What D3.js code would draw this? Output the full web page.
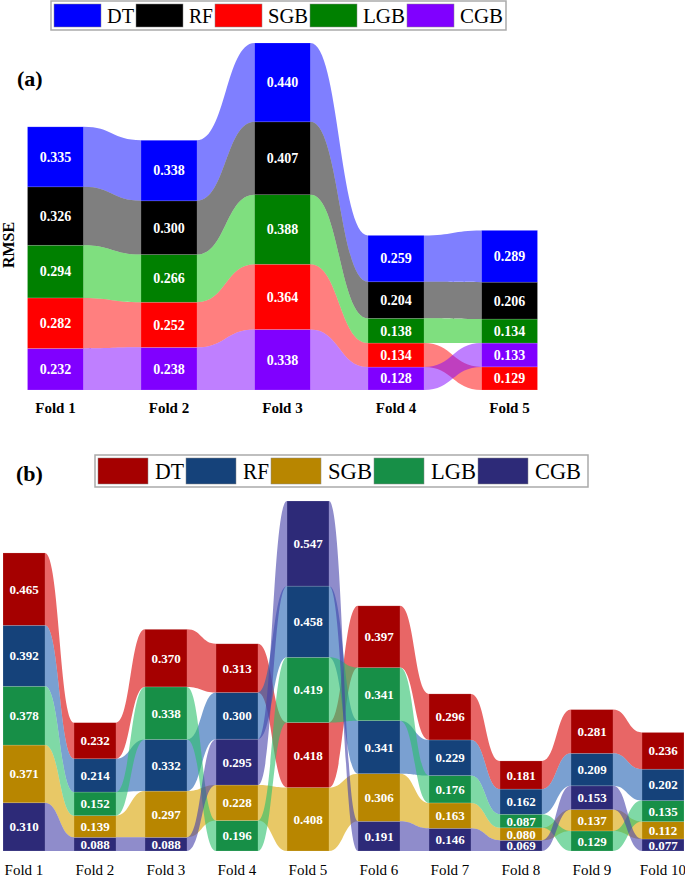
<!DOCTYPE html>
<html>
<head>
<meta charset="utf-8">
<script src="https://cdn.jsdelivr.net/npm/d3@7"></script>
<style>
  body { margin: 0; background: #fff; }
  svg { display: block; font-family: "Liberation Serif", "Times New Roman", serif; }
</style>
</head>
<body>
<div id="chart"></div>
<script>
// Model names and fold labels
var models = ["DT", "RF", "SGB", "LGB", "CGB"];
var foldsA = ["Fold 1", "Fold 2", "Fold 3", "Fold 4", "Fold 5"];
var foldsB = ["Fold 1", "Fold 2", "Fold 3", "Fold 4", "Fold 5", "Fold 6", "Fold 7", "Fold 8", "Fold 9", "Fold 10"];

// Panel (a) RMSE per model
var aDT = [0.335, 0.338, 0.440, 0.259, 0.289];
var aRF = [0.326, 0.300, 0.407, 0.204, 0.206];
var aSGB = [0.282, 0.252, 0.364, 0.134, 0.129];
var aLGB = [0.294, 0.266, 0.388, 0.138, 0.134];
var aCGB = [0.232, 0.238, 0.338, 0.128, 0.133];

// Panel (b) values per model
var bDT = [0.465, 0.232, 0.370, 0.313, 0.418, 0.397, 0.296, 0.181, 0.281, 0.236];
var bRF = [0.392, 0.214, 0.332, 0.300, 0.458, 0.341, 0.229, 0.162, 0.209, 0.202];
var bSGB = [0.371, 0.139, 0.297, 0.228, 0.408, 0.306, 0.163, 0.080, 0.137, 0.112];
var bLGB = [0.378, 0.152, 0.338, 0.196, 0.419, 0.341, 0.176, 0.087, 0.129, 0.135];
var bCGB = [0.310, 0.088, 0.088, 0.295, 0.547, 0.191, 0.146, 0.069, 0.153, 0.077];

var svg = d3.select("#chart").append("svg")
  .attr("width", 685)
  .attr("height", 877);

// builds stacked boxes per fold, smallest at the bottom
function stackFolds(series, nFolds) {
  var out = [];
  for (var f = 0; f < nFolds; f++) {
    var items = models.map(function (m, i) {
      return { model: m, idx: i, value: series[i][f] };
    });
    // stable ascending sort (ties keep model order)
    items.sort(function (a, b) { return a.value - b.value || a.idx - b.idx; });
    var cum = 0;
    var byModel = {};
    items.forEach(function (d) {
      d.y0 = cum;
      cum += d.value;
      d.y1 = cum;
      byModel[d.model] = d;
    });
    out.push({ items: items, byModel: byModel, total: cum });
  }
  return out;
}

function drawPanel(cfg) {
  var g = svg.append("g");
  var stacks = stackFolds(cfg.series, cfg.folds.length);
  var maxTotal = d3.max(stacks, function (s) { return s.total; });

  var x = d3.scalePoint().domain(cfg.folds).range(cfg.xRange);
  var y = d3.scaleLinear().domain([0, maxTotal]).range([cfg.base, cfg.top]);
  var w = cfg.boxW;

  var boxes = g.append("g");
  var ribbons = g.append("g");
  var labels = g.append("g");

  // ribbons between consecutive folds
  for (var f = 0; f < cfg.folds.length - 1; f++) {
    var x0 = x(cfg.folds[f]) + w / 2;
    var x1 = x(cfg.folds[f + 1]) - w / 2;
    var xm = (x0 + x1) / 2;
    models.forEach(function (m, i) {
      var a = stacks[f].byModel[m];
      var b = stacks[f + 1].byModel[m];
      var t0 = y(a.y1), b0 = y(a.y0), t1 = y(b.y1), b1 = y(b.y0);
      var p = d3.path();
      p.moveTo(x0, t0);
      p.bezierCurveTo(xm, t0, xm, t1, x1, t1);
      p.lineTo(x1, b1);
      p.bezierCurveTo(xm, b1, xm, b0, x0, b0);
      p.closePath();
      ribbons.append("path")
        .attr("d", p.toString())
        .attr("fill", cfg.ribbonColors[i])
        .attr("fill-opacity", cfg.ribbonOpacity);
    });
  }

  // boxes and value labels
  stacks.forEach(function (s, f) {
    s.items.forEach(function (d) {
      boxes.append("rect")
        .attr("x", x(cfg.folds[f]) - w / 2)
        .attr("y", y(d.y1))
        .attr("width", w)
        .attr("height", y(d.y0) - y(d.y1))
        .attr("fill", cfg.colors[d.idx])
        .attr("stroke", "#fff")
        .attr("stroke-opacity", 0.25)
        .attr("stroke-width", 0.6);
      labels.append("text")
        .attr("x", x(cfg.folds[f]))
        .attr("y", (y(d.y0) + y(d.y1)) / 2)
        .attr("dy", "0.35em")
        .attr("text-anchor", "middle")
        .attr("fill", "#fff")
        .attr("font-weight", "bold")
        .attr("font-size", cfg.valueSize)
        .text(d.value.toFixed(3));
    });
  });

  // fold labels
  g.selectAll(".fold")
    .data(cfg.folds)
    .enter().append("text")
    .attr("x", function (d) { return x(d); })
    .attr("y", cfg.labelY)
    .attr("text-anchor", "middle")
    .attr("font-size", 15)
    .attr("font-weight", cfg.labelWeight)
    .attr("fill", "#000")
    .text(function (d) { return d; });

  // legend: swatch, label, swatch, label ... packed
  var L = cfg.legend;
  var lg = svg.append("g");
  lg.append("rect")
    .attr("x", L.x)
    .attr("y", L.y)
    .attr("width", L.w)
    .attr("height", L.h)
    .attr("fill", "#fff")
    .attr("stroke", "#aaa")
    .attr("stroke-width", 1.5);
  var sx = L.x + 3;
  models.forEach(function (m, i) {
    lg.append("rect")
      .attr("x", sx)
      .attr("y", L.y + 3)
      .attr("width", L.sw)
      .attr("height", L.h - 6)
      .attr("fill", cfg.colors[i])
      .attr("stroke", "#888")
      .attr("stroke-width", 0.5);
    var tx = sx + L.sw + L.gap;
    lg.append("text")
      .attr("x", tx)
      .attr("y", L.y + L.h / 2)
      .attr("dy", "0.35em")
      .attr("font-size", L.fs)
      .attr("textLength", L.tw[i])
      .attr("lengthAdjust", "spacingAndGlyphs")
      .attr("fill", "#000")
      .text(m);
    sx = tx + L.tw[i] + 2;
  });
}

// panel (a)
drawPanel({
  series: [aDT, aRF, aSGB, aLGB, aCGB],
  folds: foldsA,
  xRange: [55.5, 509.5],
  boxW: 56,
  base: 390,
  top: 43,
  colors: ["#0000ff", "#000000", "#ff0000", "#008000", "#8000ff"],
  ribbonColors: ["#0000ff", "#000000", "#ff0000", "#00c000", "#8000ff"],
  ribbonOpacity: 0.5,
  valueSize: 14,
  labelY: 413,
  labelWeight: "bold",
  legend: { x: 51, y: 1, w: 455, h: 29, sw: 47, gap: 6, fs: 22, tw: [27, 24, 40, 42, 43] }
});

// panel (b)
drawPanel({
  series: [bDT, bRF, bSGB, bLGB, bCGB],
  folds: foldsB,
  xRange: [24, 663],
  boxW: 42,
  base: 851,
  top: 501,
  colors: ["#a50000", "#15427a", "#b88600", "#178f47", "#2d2a78"],
  ribbonColors: ["#d80000", "#2160b2", "#d9a300", "#2ac06b", "#443fa8"],
  ribbonOpacity: 0.6,
  valueSize: 13,
  labelY: 875,
  labelWeight: "normal",
  legend: { x: 95, y: 455, w: 493, h: 32, sw: 50, gap: 7, fs: 23, tw: [29, 26, 44, 45, 46] }
});

// panel tags and y-axis title
svg.append("text")
  .attr("x", 17).attr("y", 86)
  .attr("font-size", 22).attr("font-weight", "bold")
  .text("(a)");
svg.append("text")
  .attr("x", 16).attr("y", 481)
  .attr("font-size", 22).attr("font-weight", "bold")
  .text("(b)");
svg.append("text")
  .attr("transform", "translate(14,245) rotate(-90)")
  .attr("text-anchor", "middle")
  .attr("font-size", 16).attr("font-weight", "bold")
  .text("RMSE");
</script>
</body>
</html>
